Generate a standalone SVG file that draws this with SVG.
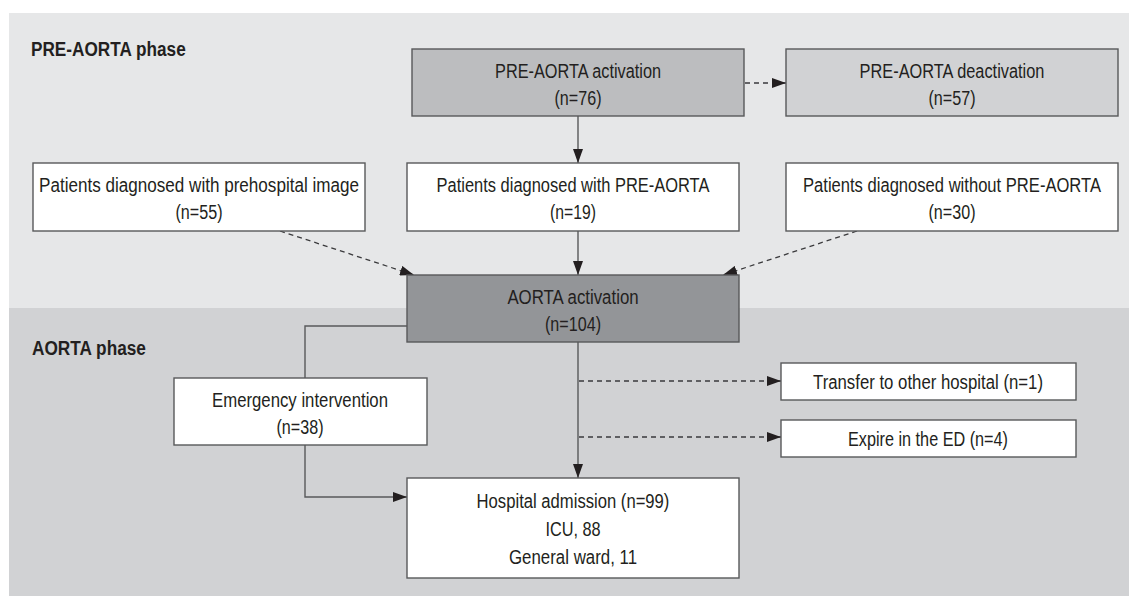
<svg xmlns="http://www.w3.org/2000/svg" width="1129" height="596" viewBox="0 0 1129 596">
<defs>
<marker id="arr" markerUnits="userSpaceOnUse" markerWidth="14" markerHeight="10" refX="14" refY="5" orient="auto">
<path d="M0,0 L14,5 L0,10 Z" fill="#231f20"/>
</marker>
<style>
.box{stroke:#58595b;stroke-width:1.4}
.t{font-family:"Liberation Sans",Arial,sans-serif;font-size:21px;fill:#231f20;text-anchor:middle}
.h{font-family:"Liberation Sans",Arial,sans-serif;font-size:20.5px;font-weight:bold;fill:#231f20}
.ln{fill:none;stroke:#58595b;stroke-width:1.4}
.dl{fill:none;stroke:#3a3a3c;stroke-width:1.3;stroke-dasharray:5 4}
</style>
</defs>
<rect x="0" y="0" width="1129" height="596" fill="#ffffff"/>
<rect id="panel-pre" x="9" y="13" width="1120" height="295" fill="#e6e7e8"/>
<rect id="panel-aorta" x="9" y="308" width="1120" height="288" fill="#d1d2d4"/>
<text class="h" transform="translate(31,56) scale(0.85,1)" textLength="182" lengthAdjust="spacingAndGlyphs">PRE-AORTA phase</text>
<text class="h" transform="translate(32,355) scale(0.85,1)" textLength="134" lengthAdjust="spacingAndGlyphs">AORTA phase</text>

<g id="connectors">
<line class="dl" x1="745" y1="83" x2="786" y2="83" marker-end="url(#arr)"/>
<line class="ln" x1="578" y1="116" x2="578" y2="163" marker-end="url(#arr)"/>
<line class="ln" x1="578" y1="231" x2="578" y2="275" marker-end="url(#arr)"/>
<line class="dl" x1="280" y1="231" x2="414" y2="275" marker-end="url(#arr)"/>
<line class="dl" x1="857" y1="231" x2="723" y2="275" marker-end="url(#arr)"/>
<polyline class="ln" points="407,326 305,326 305,378"/>
<polyline class="ln" points="305,445 305,497 407,497" marker-end="url(#arr)"/>
<line class="ln" x1="578" y1="342" x2="578" y2="478" marker-end="url(#arr)"/>
<line class="dl" x1="579" y1="381" x2="781" y2="381" marker-end="url(#arr)"/>
<line class="dl" x1="579" y1="437" x2="781" y2="437" marker-end="url(#arr)"/>
</g>

<g id="pre-aorta-activation">
<rect class="box" x="412" y="49" width="332" height="67" fill="#bcbdbf"/>
<text class="t" transform="translate(578,78) scale(0.8,1)" textLength="207.5" lengthAdjust="spacingAndGlyphs">PRE-AORTA activation</text>
<text class="t" transform="translate(578,105) scale(0.8,1)" textLength="58.75" lengthAdjust="spacingAndGlyphs">(n=76)</text>
</g>
<g id="pre-aorta-deactivation">
<rect class="box" x="786" y="49" width="332" height="67" fill="#d1d2d4"/>
<text class="t" transform="translate(952,78) scale(0.8,1)" textLength="231" lengthAdjust="spacingAndGlyphs">PRE-AORTA deactivation</text>
<text class="t" transform="translate(952,105) scale(0.8,1)" textLength="58.75" lengthAdjust="spacingAndGlyphs">(n=57)</text>
</g>
<g id="prehospital-image">
<rect class="box" x="33" y="163" width="332" height="68" fill="#ffffff"/>
<text class="t" transform="translate(199,192) scale(0.8,1)" textLength="400" lengthAdjust="spacingAndGlyphs">Patients diagnosed with prehospital image</text>
<text class="t" transform="translate(199,219) scale(0.8,1)" textLength="58.75" lengthAdjust="spacingAndGlyphs">(n=55)</text>
</g>
<g id="with-pre-aorta">
<rect class="box" x="407" y="163" width="332" height="68" fill="#ffffff"/>
<text class="t" transform="translate(573,192) scale(0.8,1)" textLength="341" lengthAdjust="spacingAndGlyphs">Patients diagnosed with PRE-AORTA</text>
<text class="t" transform="translate(573,219) scale(0.8,1)" textLength="57.5" lengthAdjust="spacingAndGlyphs">(n=19)</text>
</g>
<g id="without-pre-aorta">
<rect class="box" x="786" y="163" width="332" height="68" fill="#ffffff"/>
<text class="t" transform="translate(952,192) scale(0.8,1)" textLength="372.5" lengthAdjust="spacingAndGlyphs">Patients diagnosed without PRE-AORTA</text>
<text class="t" transform="translate(952,219) scale(0.8,1)" textLength="58.75" lengthAdjust="spacingAndGlyphs">(n=30)</text>
</g>
<g id="aorta-activation">
<rect class="box" x="407" y="275" width="332" height="67" fill="#939598"/>
<text class="t" transform="translate(573,304) scale(0.8,1)" textLength="164" lengthAdjust="spacingAndGlyphs">AORTA activation</text>
<text class="t" transform="translate(573,331) scale(0.8,1)" textLength="70" lengthAdjust="spacingAndGlyphs">(n=104)</text>
</g>
<g id="emergency-intervention">
<rect class="box" x="174" y="378" width="253" height="67" fill="#ffffff"/>
<text class="t" transform="translate(300,407) scale(0.8,1)" textLength="220" lengthAdjust="spacingAndGlyphs">Emergency intervention</text>
<text class="t" transform="translate(300,434) scale(0.8,1)" textLength="58.75" lengthAdjust="spacingAndGlyphs">(n=38)</text>
</g>
<g id="transfer">
<rect class="box" x="781" y="363" width="295" height="37" fill="#ffffff"/>
<text class="t" transform="translate(928,389) scale(0.8,1)" textLength="287.5" lengthAdjust="spacingAndGlyphs">Transfer to other hospital (n=1)</text>
</g>
<g id="expire">
<rect class="box" x="781" y="420" width="295" height="37" fill="#ffffff"/>
<text class="t" transform="translate(928,446) scale(0.8,1)" textLength="200" lengthAdjust="spacingAndGlyphs">Expire in the ED (n=4)</text>
</g>
<g id="hospital-admission">
<rect class="box" x="407" y="478" width="332" height="100" fill="#ffffff"/>
<text class="t" transform="translate(573,508) scale(0.8,1)" textLength="241" lengthAdjust="spacingAndGlyphs">Hospital admission (n=99)</text>
<text class="t" transform="translate(573,536) scale(0.8,1)" textLength="69" lengthAdjust="spacingAndGlyphs">ICU, 88</text>
<text class="t" transform="translate(573,564) scale(0.8,1)" textLength="160" lengthAdjust="spacingAndGlyphs">General ward, 11</text>
</g>
</svg>
